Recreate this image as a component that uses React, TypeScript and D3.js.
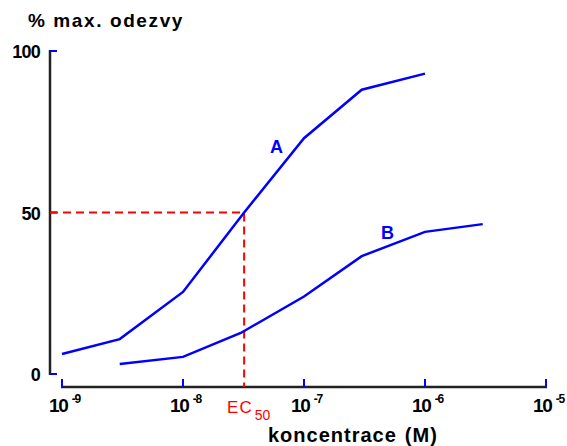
import { scaleLog, scaleLinear, line } from "d3";

const ec50 = 3.2e-8;
const concA = [1e-9, 3e-9, 1e-8, ec50, 1e-7, 3e-7, 1e-6];
const respA = [6.2, 10.8, 25.4, 50, 73, 88, 93];
const concB = [3e-9, 1e-8, 3e-8, 1e-7, 3e-7, 1e-6, 3e-6];
const respB = [3.1, 5.3, 12.7, 24, 36.5, 44, 46.4];
const xTicks = [-9, -8, -7, -6, -5];
const yTicks = [0, 50, 100];

const App = () => {
  const width = 567;
  const height = 446;

  const x = scaleLog().domain([1e-9, 1e-5]).range([62, 546]);
  const y = scaleLinear().domain([0, 100]).range([374, 51]);
  const xAxisY = 387;
  const yAxisX = 50;

  const path = line<[number, number]>()
    .x((d) => x(d[0]))
    .y((d) => y(d[1]));

  const seriesA = concA.map((c, i) => [c, respA[i]] as [number, number]);
  const seriesB = concB.map((c, i) => [c, respB[i]] as [number, number]);

  const font = "'Liberation Sans', Arial, sans-serif";

  return (
    <svg width={width} height={height} style={{ position: "absolute", left: 0, top: 0 }} fontFamily={font}>
      <rect width={width} height={height} fill="white" />

      {/* y axis */}
      <line x1={yAxisX} x2={yAxisX} y1={y(100) - 1} y2={y(0) + 1} stroke="#222" strokeWidth={2.5} />
      {yTicks.map((t) => (
        <g key={t}>
          <line x1={yAxisX} x2={yAxisX + 7} y1={y(t)} y2={y(t)} stroke="blue" strokeWidth={2} />
          <text x={40} y={y(t) + 7} textAnchor="end" fontSize={18} fontWeight="bold" letterSpacing={-0.8}>
            {t}
          </text>
        </g>
      ))}

      {/* x axis */}
      <line x1={x(1e-9) - 1} x2={x(1e-5) + 1} y1={xAxisY} y2={xAxisY} stroke="#222" strokeWidth={2.5} />
      {xTicks.map((e) => (
        <g key={e} transform={`translate(${x(Math.pow(10, e))},0)`}>
          <line y1={xAxisY} y2={xAxisY - 8} stroke="blue" strokeWidth={2} />
          <text x={-13} y={412} fontSize={19} fontWeight="bold" letterSpacing={-1.2}>
            10
            <tspan dx={4} dy={-9} fontSize={12}>
              {e}
            </tspan>
          </text>
        </g>
      ))}

      {/* EC50 guides */}
      <path
        d={`M${yAxisX},${y(50)}H${x(ec50)}V${xAxisY}`}
        fill="none"
        stroke="red"
        strokeWidth={2}
        strokeDasharray="8,5"
      />
      <text x={x(ec50) - 17} y={413} fill="red" fontSize={17} letterSpacing={1}>
        EC
        <tspan dx={2} dy={7} fontSize={14} letterSpacing={0}>
          50
        </tspan>
      </text>

      {/* curves */}
      <path d={path(seriesA) ?? ""} fill="none" stroke="blue" strokeWidth={2.5} />
      <path d={path(seriesB) ?? ""} fill="none" stroke="blue" strokeWidth={2.5} />
      <text x={270} y={153} fill="blue" fontSize={18} fontWeight="bold">
        A
      </text>
      <text x={381} y={239} fill="blue" fontSize={18} fontWeight="bold">
        B
      </text>

      {/* titles */}
      <text x={28} y={27} fontSize={19} fontWeight="bold" letterSpacing={1.6}>
        % max. odezvy
      </text>
      <text x={268} y={442} fontSize={20} fontWeight="bold" letterSpacing={1}>
        koncentrace
        <tspan dx={8}>(M)</tspan>
      </text>
    </svg>
  );
};

export default App;
